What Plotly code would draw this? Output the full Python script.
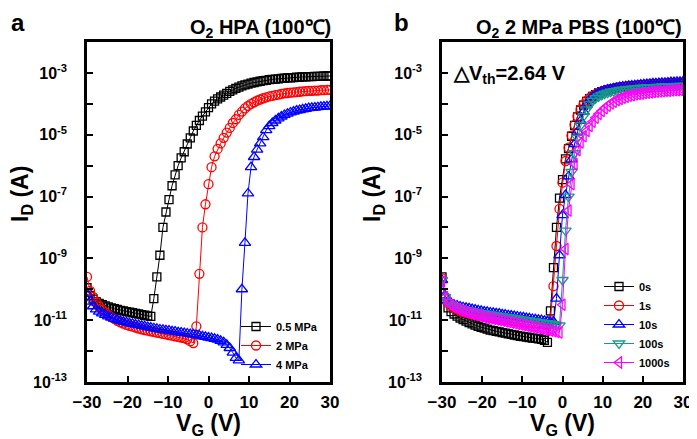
import numpy as np
import plotly.graph_objects as go

# Gate voltage sweep (V), 0.75 V step
VG = [round(-30 + 0.75 * i, 2) for i in range(81)]

# ---- Panel a: O2 HPA (100 C), log10(I_D / A)
a_05MPa_log = [-9.95,-10.2,-10.32,-10.4,-10.46,-10.5,-10.54,-10.57,-10.6,-10.63,
               -10.65,-10.68,-10.7,-10.72,-10.74,-10.76,-10.78,-10.8,-10.82,-10.84,
               -10.86,-10.88,-10.3,-9.6,-8.9,-8.0,-7.5,-7.1,-6.65,-6.3,
               -6.0,-5.75,-5.55,-5.3,-5.1,-4.88,-4.7,-4.54,-4.4,-4.26,
               -4.12,-4.0,-3.91,-3.84,-3.78,-3.72,-3.66,-3.6,-3.55,-3.5,
               -3.46,-3.42,-3.39,-3.36,-3.33,-3.31,-3.29,-3.27,-3.25,-3.24,
               -3.22,-3.21,-3.2,-3.19,-3.18,-3.17,-3.16,-3.16,-3.15,-3.14,
               -3.14,-3.13,-3.13,-3.12,-3.12,-3.11,-3.11,-3.11,-3.1,-3.1,-3.1]
a_2MPa_log = [-9.6,-10.05,-10.25,-10.42,-10.55,-10.66,-10.75,-10.83,-10.9,-10.96,
              -11.02,-11.07,-11.11,-11.15,-11.18,-11.21,-11.24,-11.27,-11.3,-11.32,
              -11.34,-11.36,-11.38,-11.4,-11.42,-11.44,-11.46,-11.48,-11.5,-11.52,
              -11.54,-11.56,-11.58,-11.62,-11.68,-11.74,-11.2,-9.5,-8.0,-7.25,
              -6.6,-6.05,-5.7,-5.46,-5.28,-5.1,-4.93,-4.78,-4.62,-4.5,
              -4.36,-4.25,-4.15,-4.07,-4.0,-3.95,-3.9,-3.86,-3.82,-3.79,
              -3.76,-3.74,-3.72,-3.7,-3.68,-3.66,-3.65,-3.64,-3.63,-3.62,
              -3.61,-3.6,-3.59,-3.58,-3.58,-3.57,-3.57,-3.56,-3.56,-3.55,-3.55]
a_4MPa_log = [-10.15,-10.4,-10.55,-10.65,-10.72,-10.78,-10.83,-10.88,-10.92,-10.96,
              -10.99,-11.02,-11.05,-11.07,-11.1,-11.12,-11.14,-11.16,-11.18,-11.2,
              -11.22,-11.24,-11.26,-11.28,-11.3,-11.31,-11.33,-11.34,-11.36,-11.37,
              -11.39,-11.4,-11.42,-11.43,-11.45,-11.46,-11.48,-11.5,-11.52,-11.54,
              -11.56,-11.58,-11.6,-11.63,-11.67,-11.72,-11.8,-11.9,-12.05,-12.22,
              -12.3,-10.0,-8.5,-6.9,-6.05,-5.72,-5.48,-5.28,-5.08,-4.85,
              -4.72,-4.62,-4.54,-4.47,-4.41,-4.36,-4.32,-4.28,-4.25,-4.22,
              -4.2,-4.18,-4.16,-4.14,-4.13,-4.12,-4.11,-4.1,-4.09,-4.08,-4.07]

# ---- Panel b: O2 2 MPa PBS (100 C), log10(I_D / A)
b_0s_log = [-9.6,-10.3,-10.6,-10.72,-10.8,-10.87,-10.93,-10.98,-11.03,-11.08,
            -11.12,-11.16,-11.2,-11.23,-11.26,-11.29,-11.32,-11.34,-11.36,-11.38,
            -11.4,-11.42,-11.44,-11.46,-11.48,-11.5,-11.52,-11.53,-11.55,-11.56,
            -11.58,-11.59,-11.6,-11.62,-11.65,-11.72,-10.7,-9.3,-8.0,-7.05,
            -6.45,-5.78,-5.45,-5.05,-4.7,-4.42,-4.2,-4.04,-3.92,-3.83,
            -3.76,-3.7,-3.65,-3.61,-3.58,-3.55,-3.53,-3.51,-3.49,-3.47,
            -3.46,-3.45,-3.44,-3.43,-3.42,-3.41,-3.4,-3.39,-3.38,-3.38,
            -3.37,-3.36,-3.36,-3.35,-3.35,-3.34,-3.34,-3.33,-3.33,-3.32,-3.32]
b_1s_log = [-9.65,-10.25,-10.45,-10.55,-10.61,-10.66,-10.7,-10.73,-10.76,-10.79,
            -10.81,-10.83,-10.85,-10.87,-10.89,-10.9,-10.92,-10.93,-10.95,-10.96,
            -10.98,-10.99,-11.0,-11.01,-11.03,-11.04,-11.05,-11.06,-11.07,-11.08,
            -11.09,-11.1,-11.11,-11.12,-11.13,-11.14,-11.0,-9.9,-8.6,-7.4,
            -6.55,-5.85,-5.42,-5.03,-4.68,-4.4,-4.18,-4.02,-3.9,-3.81,
            -3.74,-3.69,-3.64,-3.6,-3.57,-3.55,-3.53,-3.51,-3.49,-3.47,
            -3.46,-3.45,-3.44,-3.43,-3.42,-3.41,-3.4,-3.39,-3.38,-3.38,
            -3.37,-3.36,-3.36,-3.35,-3.35,-3.34,-3.34,-3.33,-3.33,-3.33,-3.32]
b_10s_log = [-9.7,-10.2,-10.38,-10.45,-10.5,-10.53,-10.56,-10.58,-10.6,-10.62,
             -10.64,-10.66,-10.68,-10.7,-10.72,-10.73,-10.75,-10.76,-10.78,-10.79,
             -10.81,-10.82,-10.84,-10.85,-10.87,-10.88,-10.9,-10.91,-10.93,-10.94,
             -10.96,-10.97,-10.99,-11.0,-11.02,-11.04,-11.06,-11.05,-10.3,-8.9,
             -7.6,-6.95,-6.35,-5.8,-5.3,-4.9,-4.55,-4.25,-4.02,-3.88,
             -3.78,-3.71,-3.65,-3.6,-3.57,-3.54,-3.52,-3.5,-3.48,-3.46,
             -3.44,-3.43,-3.42,-3.41,-3.4,-3.39,-3.38,-3.37,-3.36,-3.35,
             -3.34,-3.34,-3.33,-3.32,-3.32,-3.31,-3.3,-3.3,-3.29,-3.29,-3.28]
b_100s_log = [-9.7,-10.25,-10.42,-10.5,-10.55,-10.59,-10.62,-10.65,-10.67,-10.69,
              -10.71,-10.73,-10.75,-10.77,-10.79,-10.8,-10.82,-10.83,-10.85,-10.86,
              -10.88,-10.89,-10.91,-10.92,-10.94,-10.95,-10.97,-10.98,-11.0,-11.01,
              -11.03,-11.04,-11.06,-11.07,-11.09,-11.1,-11.12,-11.13,-11.15,-11.17,
              -9.7,-8.1,-7.0,-6.2,-5.6,-5.1,-4.7,-4.4,-4.18,-4.02,
              -3.9,-3.82,-3.76,-3.71,-3.67,-3.64,-3.61,-3.59,-3.57,-3.55,
              -3.54,-3.53,-3.52,-3.51,-3.5,-3.49,-3.48,-3.48,-3.47,-3.46,
              -3.46,-3.45,-3.45,-3.44,-3.44,-3.43,-3.43,-3.43,-3.42,-3.42,-3.42]
b_1000s_log = [-9.75,-10.25,-10.45,-10.52,-10.58,-10.63,-10.67,-10.71,-10.74,-10.77,
               -10.8,-10.82,-10.85,-10.87,-10.9,-10.92,-10.94,-10.96,-10.98,-11.0,
               -11.02,-11.04,-11.06,-11.08,-11.1,-11.12,-11.14,-11.16,-11.18,-11.2,
               -11.22,-11.24,-11.26,-11.28,-11.3,-11.32,-11.34,-11.36,-11.38,-11.4,
               -10.5,-8.7,-7.45,-6.6,-5.95,-5.5,-5.25,-5.05,-4.88,-4.72,
               -4.58,-4.45,-4.33,-4.23,-4.14,-4.06,-3.99,-3.93,-3.88,-3.84,
               -3.8,-3.77,-3.74,-3.72,-3.7,-3.68,-3.67,-3.65,-3.64,-3.63,
               -3.62,-3.61,-3.6,-3.59,-3.58,-3.58,-3.57,-3.56,-3.56,-3.55,-3.55]

a_names = ["0.5 MPa", "2 MPa", "4 MPa"]
b_names = ["0s", "1s", "10s", "100s", "1000s"]

ytick_vals = [1e-3, 1e-5, 1e-7, 1e-9, 1e-11, 1e-13]
ytick_text = ["10<sup>-3</sup>", "10<sup>-5</sup>", "10<sup>-7</sup>",
              "10<sup>-9</sup>", "10<sup>-11</sup>", "10<sup>-13</sup>"]
yminor_vals = [1e-4, 1e-6, 1e-8, 1e-10, 1e-12]
xtick_vals = [-30, -20, -10, 0, 10, 20, 30]

FONT = "Liberation Sans, Arial, sans-serif"
# the page body has an 8 px margin, so the figure is drawn 8 px in from the window edge
OFF = 8
W, H = 697 - OFF, 439 - OFF

fig = go.Figure()

a_series = [(a_05MPa_log, "square-open", "#000000", 8),
            (a_2MPa_log, "circle-open", "#FF0000", 9),
            (a_4MPa_log, "triangle-up-open", "#0000FF", 10)]
for (vals, sym, col, sz), name in zip(a_series, a_names):
    fig.add_trace(go.Scatter(
        x=VG, y=10 ** np.array(vals), mode="lines+markers", name=name,
        line=dict(color=col, width=1),
        marker=dict(symbol=sym, size=sz, color=col, line=dict(width=1.3, color=col)),
        xaxis="x", yaxis="y", legend="legend"))

b_series = [(b_0s_log, "square-open", "#000000", 8),
            (b_1s_log, "circle-open", "#FF0000", 9),
            (b_10s_log, "triangle-up-open", "#0000FF", 10),
            (b_100s_log, "triangle-down-open", "#159A8C", 10),
            (b_1000s_log, "triangle-left-open", "#FF00FF", 10)]
for (vals, sym, col, sz), name in zip(b_series, b_names):
    fig.add_trace(go.Scatter(
        x=VG, y=10 ** np.array(vals), mode="lines+markers", name=name,
        line=dict(color=col, width=1),
        marker=dict(symbol=sym, size=sz, color=col, line=dict(width=1.3, color=col)),
        xaxis="x2", yaxis="y2", legend="legend2"))

def px_x(p):
    return (p - OFF) / W

def px_y(p):
    return 1 - (p - OFF) / H

ydom = [px_y(382), px_y(42)]

def xax(dom, anchor):
    return dict(domain=dom, anchor=anchor, range=[-30, 30], tickvals=xtick_vals,
                automargin=False,
                ticks="inside", ticklen=6, tickwidth=2, tickcolor="black",
                ticklabelstandoff=3,
                showline=True, linewidth=2.5, linecolor="black", mirror=True,
                showgrid=False, zeroline=False,
                tickfont=dict(family=FONT, size=17, color="black", weight="bold"),
                title=dict(text="V<sub>G</sub> (V)", standoff=8,
                           font=dict(family=FONT, size=23, color="black", weight="bold")))

def yax(anchor):
    return dict(domain=ydom, anchor=anchor, type="log", range=[-13, -2],
                automargin=False,
                tickvals=ytick_vals, ticktext=ytick_text,
                ticks="inside", ticklen=6, tickwidth=2, tickcolor="black",
                ticklabelstandoff=14,
                minor=dict(tickvals=yminor_vals, ticks="inside", ticklen=6,
                           tickwidth=2, tickcolor="black", showgrid=False),
                showline=True, linewidth=2.5, linecolor="black", mirror=True,
                showgrid=False, zeroline=False,
                tickfont=dict(family=FONT, size=16, color="black", weight="bold"))

legend_font = dict(family=FONT, size=11, color="black", weight="bold")

def ytitle(xc):
    return dict(text="I<sub>D</sub> (A)", x=px_x(xc), y=px_y(194),
                xref="paper", yref="paper", xanchor="center", yanchor="middle",
                textangle=-90, showarrow=False,
                font=dict(family=FONT, size=23, color="black", weight="bold"))

fig.update_layout(
    width=W, height=H,
    margin=dict(l=0, r=0, t=0, b=0, autoexpand=False),
    paper_bgcolor="white", plot_bgcolor="white",
    showlegend=True,
    xaxis=xax([px_x(87), px_x(330)], "y"),
    yaxis=yax("x"),
    xaxis2=xax([px_x(442), px_x(683)], "y2"),
    yaxis2=yax("x2"),
    legend=dict(x=px_x(236), y=px_y(312), xanchor="left", yanchor="top",
                bgcolor="rgba(0,0,0,0)", font=legend_font, tracegroupgap=0),
    legend2=dict(x=px_x(599), y=px_y(272), xanchor="left", yanchor="top",
                 bgcolor="rgba(0,0,0,0)", font=legend_font, tracegroupgap=0),
    annotations=[
        ytitle(21),
        ytitle(373),
        dict(text="a", x=px_x(10), y=px_y(8), xref="paper", yref="paper",
             xanchor="left", yanchor="top", showarrow=False, borderpad=0,
             font=dict(family=FONT, size=24, color="black", weight="bold")),
        dict(text="b", x=px_x(393), y=px_y(8), xref="paper", yref="paper",
             xanchor="left", yanchor="top", showarrow=False, borderpad=0,
             font=dict(family=FONT, size=24, color="black", weight="bold")),
        dict(text="O<sub>2</sub> HPA (100\u2103)", x=px_x(333), y=px_y(28),
             xref="paper", yref="paper", xanchor="right", yanchor="middle",
             showarrow=False,
             font=dict(family=FONT, size=20, color="black", weight="bold")),
        dict(text="O<sub>2</sub> 2 MPa PBS (100\u2103)", x=px_x(684), y=px_y(28),
             xref="paper", yref="paper", xanchor="right", yanchor="middle",
             showarrow=False,
             font=dict(family=FONT, size=20, color="black", weight="bold")),
        dict(text="\u25b3V<sub>th</sub>=2.64 V", x=px_x(451), y=px_y(75),
             xref="paper", yref="paper", xanchor="left", yanchor="middle",
             showarrow=False,
             font=dict(family=FONT, size=20, color="black", weight="bold")),
    ],
)

fig.write_html("out.html")
